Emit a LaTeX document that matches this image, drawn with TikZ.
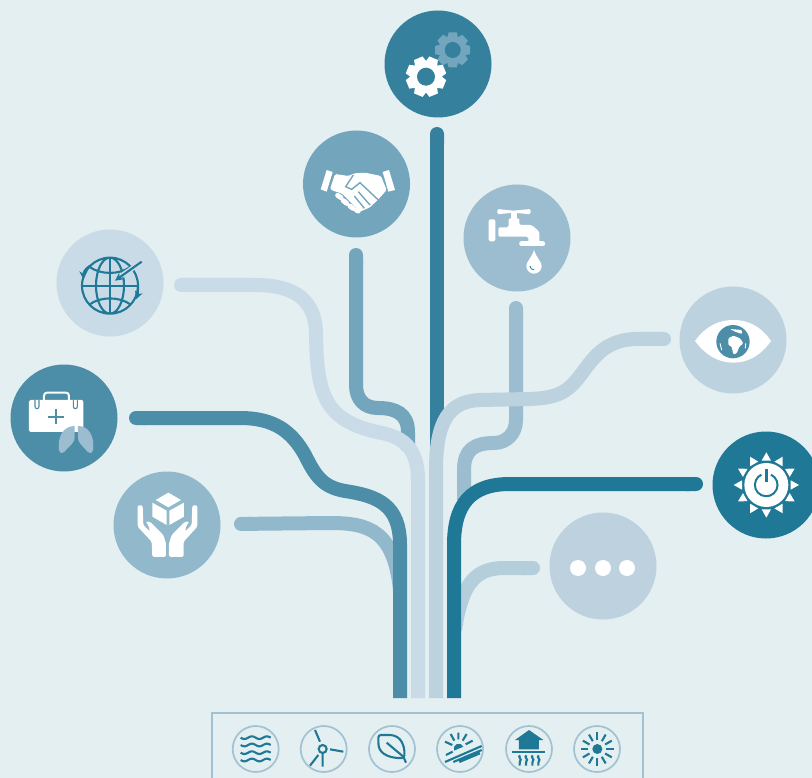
\documentclass[tikz,border=0pt]{standalone}
\usetikzlibrary{arrows.meta}

\definecolor{paper}{HTML}{E3EFF1}
\definecolor{gearcol}{HTML}{35809D}
\definecolor{handcol}{HTML}{73A6BD}
\definecolor{tapcol}{HTML}{9CBDD0}
\definecolor{globecol}{HTML}{C9DBE7}
\definecolor{medcol}{HTML}{4C8DA8}
\definecolor{boxcol}{HTML}{91B8CB}
\definecolor{eyecol}{HTML}{BDD2DF}
\definecolor{suncol}{HTML}{1F7896}
\definecolor{dotcol}{HTML}{BDD1DF}
\definecolor{dotline}{HTML}{B5CEDC}
\definecolor{framecol}{HTML}{A2C2D2}

\tikzset{
    bubble/.style={circle, minimum size=107pt, inner sep=0pt, fill=#1},
    ring/.style={circle, minimum size=46pt, inner sep=0pt, draw=framecol, line width=1.7pt},
    branch/.style={line width=14pt, draw=#1, arrows={{Round Cap[]}-}},
    thinline/.style={draw=suncol, line width=2.1pt},
}

% x, y, outer radius, hole radius, colour, turn
\newcommand{\gearwheel}[6]{
    \fill[#5] (#1,#2) circle ({0.78*#3});
    \foreach \a in {0,45,...,315}
        \fill[#5, shift={(#1,#2)}, rotate=\a+#6] ({-0.31*#3},{0.7*#3}) -- ({-0.23*#3},{#3}) -- ({0.23*#3},{#3}) -- ({0.31*#3},{0.7*#3}) -- cycle;
    \fill[gearcol] (#1,#2) circle (#4);
}

\begin{document}
\begin{tikzpicture}[x=1pt, y=-1pt]
    \useasboundingbox (0,0) rectangle (812,778);
    \clip (0,0) rectangle (812,778);
    \fill[paper] (0,0) rectangle (812,778);

    \node[bubble=gearcol] (gears) at (438,64) {};
    \node[bubble=handcol] (shake) at (356.5,184) {};
    \node[bubble=tapcol] (tap) at (517,238) {};
    \node[bubble=globecol] (globe) at (110,283) {};
    \node[bubble=medcol] (med) at (64,418) {};
    \node[bubble=boxcol] (care) at (167,525) {};
    \node[bubble=eyecol] (eye) at (733,340) {};
    \node[bubble=suncol] (power) at (766,485) {};
    \node[bubble=dotcol] (more) at (603,566) {};

    \coordinate (gearsend) at (437,127);
    \coordinate (shakeend) at (356,248);
    \coordinate (tapend) at (516,301);
    \coordinate (globeend) at (174,285);
    \coordinate (medend) at (129,418);
    \coordinate (careend) at (234,524);
    \coordinate (eyeend) at (671,339);
    \coordinate (powerend) at (703,484);
    \coordinate (moreend) at (540,568);
    \coordinate (medroot) at (400,698);
    \coordinate (globeroot) at (418,698);
    \coordinate (eyeroot) at (436,698);
    \coordinate (powerroot) at (454,698);

    % branches, lowest first
    \draw[branch=gearcol] (gearsend) -- (437,450);
    \draw[branch=handcol] (shakeend) -- (356,385) .. controls (356,399) and (364,408) .. (378,408) .. controls (396,408) and (408,414) .. (408,432) -- (408,450);
    \draw[branch=globecol] (globeend) -- (255,285) .. controls (295,285) and (316,300) .. (316,335) .. controls (317,395) and (325,420) .. (377,432) .. controls (400,436) and (418,445) .. (418,480) -- (globeroot);
    \draw[branch=tapcol] (tapend) -- (516,420) .. controls (516,434) and (506,443) .. (494,443) .. controls (474,443) and (464,450) .. (464,470) -- (464,500);
    \draw[branch=eyecol] (eyeend) -- (640,339) .. controls (600,338) and (590,365) .. (575,382) .. controls (565,393) and (555,398) .. (530,399) -- (480,400) .. controls (450,401) and (436,420) .. (436,470) -- (eyeroot);
    \draw[branch=boxcol] (careend) -- (330,523) .. controls (368,523) and (394,530) .. (400,590);
    \draw[branch=medcol] (medend) -- (240,418) .. controls (275,418) and (292,432) .. (305,455) .. controls (315,475) and (322,487) .. (345,491) .. controls (378,496) and (400,505) .. (400,545) -- (medroot);
    \draw[branch=dotline] (moreend) -- (505,568) .. controls (478,568) and (462,580) .. (455,630);
    \draw[branch=suncol] (powerend) -- (510,484) .. controls (470,484) and (454,505) .. (454,545) -- (powerroot);

    % gears
    \gearwheel{452.7}{50}{17.5}{8}{handcol}{0}
    \gearwheel{426}{76.7}{20}{9}{white}{22.5}

    % handshake
    \begin{scope}[shift={(315,160)}, scale=1/3]
        \fill[white] (35,30) -- (53,36) -- (35,95) -- (17,88) -- cycle;
        \fill[white] (203,36) -- (222,30) -- (240,90) -- (220,95) -- cycle;
        \fill[white, rounded corners=1.5pt] (60,42) -- (100,48) -- (118,40) -- (150,38) -- (198,48) -- (215,90) -- (190,118) -- (165,142) -- (135,155) -- (80,100) -- (62,95) -- (45,88) -- cycle;
        \draw[handcol, line width=1.4pt] (115,45) -- (92,80) -- (110,88) -- (135,68) -- (190,120);
        \draw[handcol, line width=1.4pt] (130,95) -- (165,135) (118,108) -- (148,145);
        \draw[white, line width=5pt, line cap=round] (68,106) -- (78,113) (85,122) -- (95,130) (105,138) -- (114,145) (124,150) -- (130,153);
    \end{scope}

    \begin{scope}[shift={(280,0)}, scale=1/3]
        % tap
        \fill[white, rounded corners=1.5pt] (652,627) -- (700,632) -- (752,627) -- (752,643) -- (700,638) -- (652,643) -- cycle;
        \fill[white] (692,638) rectangle (712,660);
        \fill[white, rounded corners=1.5pt] (626,658) rectangle (646,724);
        \fill[white, rounded corners=1.5pt] (655,682) -- (686,682) -- (686,655) -- (718,655) -- (718,675) -- (755,675) -- (778,695) -- (778,735) -- (745,735) -- (745,710) -- (655,710) -- cycle;
        \draw[white, line width=5pt, line cap=round] (725,732) -- (788,732);
        \fill[white] (762,750) .. controls (770,775) and (785,785) .. (785,798) arc (0:180:23) .. controls (739,785) and (754,775) .. (762,750) -- cycle;
        \draw[suncol, line width=0.8pt] (750,798) .. controls (750,806) and (756,809) .. (762,809);
    \end{scope}

    \begin{scope}[shift={(0,220)}, scale=1/3]
        % globe
        \draw[thinline] (330,197) circle (84) (330,197) ellipse (42 and 84);
        \draw[thinline] (330,113) -- (330,281) (246,197) -- (414,197);
        \draw[thinline] (268,140) .. controls (300,165) and (360,165) .. (392,140);
        \draw[thinline] (268,254) .. controls (300,229) and (360,229) .. (392,254);
        \draw[globecol, line width=5pt] (420,129) -- (365,167);
        \draw[thinline, -{Stealth[length=8pt, width=8pt]}] (425,125) -- (345,182);
        \draw[thinline, -{Stealth[length=8pt, width=8pt]}] (270,137) .. controls (256,146) and (250,158) .. (250,178);
        \draw[thinline, -{Stealth[length=8pt, width=8pt]}] (414,200) .. controls (414,212) and (413,225) .. (408,238);
        % medical case and lungs
        \fill[white, rounded corners=2pt] (87,540) rectangle (250,636);
        \draw[white, line width=2pt, rounded corners=3pt] (132,542) -- (132,518) -- (207,518) -- (207,542);
        \draw[medcol, line width=1.1pt] (105,540) -- (105,560) arc (180:0:6) -- (117,540);
        \draw[medcol, line width=1.1pt] (220,540) -- (220,560) arc (180:0:6) -- (232,540);
        \draw[medcol, line width=2pt] (145,590) -- (192,590) (168,567) -- (168,612);
        \fill[tapcol] (224,618) .. controls (190,618) and (172,650) .. (177,690) .. controls (178,703) and (192,700) .. (198,690) .. controls (205,680) and (224,672) .. (224,650) -- cycle;
        \fill[tapcol] (234,618) .. controls (268,618) and (284,650) .. (279,690) .. controls (278,703) and (264,700) .. (258,690) .. controls (251,680) and (234,672) .. (234,650) -- cycle;
        \draw[white, line width=1.2pt] (229,610) -- (229,636);
        % box held in hands
        \fill[white] (505,818) -- (543,840) -- (505,862) -- (467,840) -- cycle;
        \fill[white] (457,848) -- (500,872) -- (500,915) -- (457,890) -- cycle;
        \fill[white] (552,848) -- (508,872) -- (508,915) -- (552,890) -- cycle;
        \fill[white, rounded corners=1.5pt] (413,856) -- (428,856) -- (430,915) -- (450,935) -- (445,915) -- (436,905) -- (450,905) -- (490,945) -- (498,970) -- (498,1011) -- (457,1011) -- (455,965) -- (413,920) -- cycle;
        \fill[white, rounded corners=1.5pt] (592,856) -- (577,856) -- (575,915) -- (555,935) -- (560,915) -- (569,905) -- (555,905) -- (515,945) -- (507,970) -- (507,1011) -- (551,1011) -- (551,965) -- (592,920) -- cycle;
    \end{scope}

    \begin{scope}[shift={(660,280)}, scale=1/3]
        % eye with earth
        \fill[white] (105,183) .. controls (140,135) and (180,120) .. (220,120) .. controls (260,120) and (300,135) .. (333,183) .. controls (300,230) and (260,248) .. (220,248) .. controls (180,248) and (140,230) .. (105,183) -- cycle;
        \fill[medcol] (219,185) circle (50);
        \fill[white, rounded corners=1pt] (205,175) -- (220,167) -- (240,175) -- (250,190) -- (238,200) -- (230,220) -- (220,223) -- (215,200) -- (205,195) -- cycle;
        \fill[white, rounded corners=1pt] (210,147) -- (245,150) -- (247,162) -- (225,155) -- cycle;
        \draw[white, line width=0.9pt] (180,190) -- (185,210) (257,190) -- (256,205);
        % sun with power button
        \fill[white] (319,615) circle (66);
        \draw[suncol, line width=2pt] (333,584) arc (-65:245:34);
        \draw[suncol, line width=2.4pt] (319,568) -- (319,606);
        \foreach \a in {0,30,...,330}
            \fill[white, shift={(319,615)}, rotate=\a] (-14,73) -- (14,73) -- (0,98) -- cycle;
    \end{scope}
    % three dots
    \fill[white] (578,568) circle (8) (603,568) circle (8) (627,568) circle (8);

    % bottom row
    \draw[framecol, line width=2pt] (211.5,712.5) rectangle (642.5,790);
    \foreach \name/\x in {water/255.7, wind/323.7, leaf/392, field/460, heat/529, solar/597}
        \node[ring] (\name) at (\x,749) {};

    \begin{scope}[shift={(200,700)}, scale=1/3]
        \foreach \y in {113,135,158,180}
            \draw[thinline, domain=122:212, samples=40, smooth] plot (\x, {\y+4*sin(8*(\x-122))});
        \draw[thinline] (368,147) circle (12);
        \draw[thinline] (360,125) -- (345,90) (390,148) -- (430,155) (355,165) -- (330,197) (368,160) -- (368,200);
        \draw[thinline, rounded corners=2.5pt] (535,105) -- (575,105) .. controls (610,115) and (615,150) .. (612,174) .. controls (575,175) and (540,165) .. (535,130) -- cycle;
        \draw[thinline] (560,128) -- (610,170) -- (618,188);
        \fill[suncol] (776,146) ++(157:15) arc (157:337:15) -- cycle;
        \draw[thinline] (735,186) -- (845,138) (760,186) -- (845,150) (778,186) -- (840,160) (738,165) -- (758,155);
        \draw[thinline] (735,125) -- (757,135) (752,102) -- (763,122) (775,98) -- (775,118) (800,102) -- (788,122) (818,122) -- (797,133);
        \fill[suncol] (987,90) -- (1030,120) -- (1017,120) -- (1017,148) -- (957,148) -- (957,120) -- (945,120) -- cycle;
        \draw[thinline] (937,156) -- (1036,156);
        \foreach \x in {960,979,998,1016}
            \draw[thinline] (\x,166) .. controls (\x-8,172) and (\x+8,178) .. (\x,184) .. controls (\x-5,188) and (\x+3,192) .. (\x-1,197);
        \fill[suncol] (1192,147) circle (15);
        \foreach \a in {0,30,...,330}
            \draw[thinline, shift={(1192,147)}, rotate=\a] (0,27) -- (0,50);
    \end{scope}
\end{tikzpicture}
\end{document}
